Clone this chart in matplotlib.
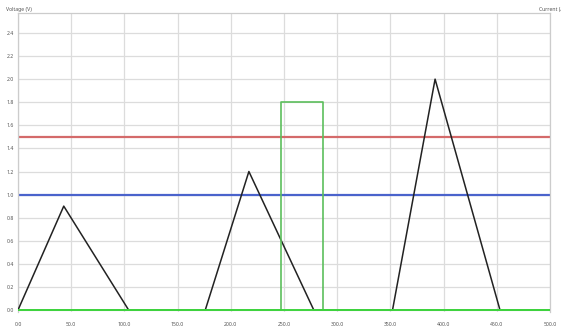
import matplotlib
matplotlib.use("Agg")
import matplotlib.pyplot as plt

plt.rcParams["font.family"] = ["Noto Sans", "DejaVu Sans"]

# Voltage trace (black): three triangular pulses
volt_t = [0, 43, 104, 176, 217, 278, 283, 352, 392, 453, 500]
volt_v = [0.0, 0.9, 0.0, 0.0, 1.2, 0.0, 0.0, 0.0, 2.0, 0.0, 0.0]

# Current trace (green): rectangular pulse
curr_t = [0, 247, 247, 287, 287, 500]
curr_v = [0.0, 0.0, 1.8, 1.8, 0.0, 0.0]

# Threshold levels
upper_level = 1.5
lower_level = 1.0

x_ticks = [0, 50, 100, 150, 200, 250, 300, 350, 400, 450, 500]
y_ticks = [0.0, 0.2, 0.4, 0.6, 0.8, 1.0, 1.2, 1.4, 1.6, 1.8, 2.0, 2.2, 2.4]

W, H = 561, 327
fig = plt.figure(figsize=(W / 100, H / 100), dpi=100)
ax = fig.add_axes([18 / W, 1 - 312 / H, (550 - 18) / W, (312 - 13) / H])

ax.set_xlim(0, 500)
ax.set_ylim(-0.017, 2.573)

ax.grid(True, color="#dcdcdc", linewidth=0.9)
ax.set_axisbelow(True)

ax.axhline(upper_level, color="#d46a6a", linewidth=1.6, zorder=2)
ax.axhline(lower_level, color="#4a63cc", linewidth=1.6, zorder=2)
ax.plot(volt_t, volt_v, color="#222222", linewidth=1.1, zorder=3)
ax.plot(curr_t, curr_v, color="#5cbf5c", linewidth=1.2, zorder=4)
ax.axhline(0.0, color="#3ed43e", linewidth=1.4, zorder=5)

ax.set_xticks(x_ticks)
ax.set_xticklabels([f"{v:.1f}" for v in x_ticks])
ax.set_yticks(y_ticks)
ax.set_yticklabels([f"{v:.1f}" for v in y_ticks])
ax.tick_params(axis="both", length=0, labelsize=3.7, colors="#555555")
ax.tick_params(axis="x", pad=7)
ax.tick_params(axis="y", pad=3)

for side in ("left", "top", "right"):
    ax.spines[side].set_color("#cccccc")
    ax.spines[side].set_linewidth(0.9)
ax.spines["bottom"].set_visible(False)

fig.text(6 / W, 1 - 9 / H, "Voltage (V)", fontsize=3.7, color="#555555",
         ha="left", va="center")
fig.text(539 / W, 1 - 9 / H, "Current (A)", fontsize=3.7, color="#555555",
         ha="left", va="center")

fig.savefig("out.png", dpi=100)
